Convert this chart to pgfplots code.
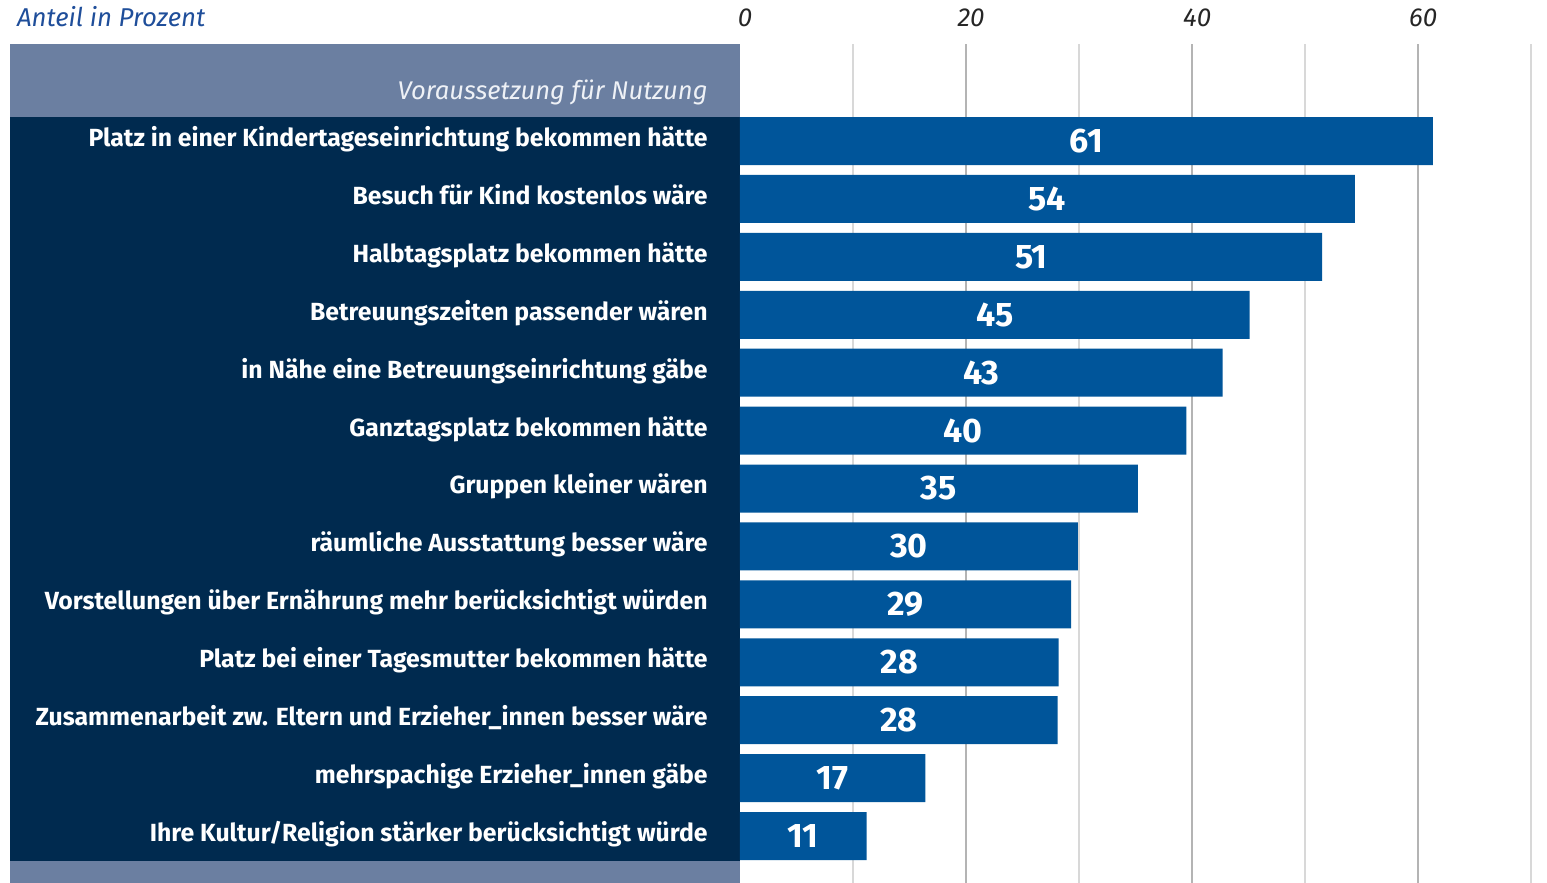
\documentclass[border=0pt]{standalone}
\usepackage{pgfplots}
\pgfplotsset{compat=1.18}
\usepackage{pgfplotstable}
\usepackage{fontspec}
\setmainfont{Fira Sans}
\definecolor{barblue}{HTML}{00559A}
\definecolor{navy}{HTML}{002A4F}
\definecolor{headgrey}{HTML}{6B7FA1}
\definecolor{titleblue}{HTML}{1F4E9A}
\definecolor{minorgrid}{HTML}{D8D8D8}
\definecolor{majorgrid}{HTML}{B4B4B4}
\definecolor{headtext}{HTML}{EEF1F6}

\pgfplotstableread{
y v lab
1 61.3 61
2 54.4 54
3 51.5 51
4 45.1 45
5 42.7 43
6 39.5 40
7 35.2 35
8 29.9 30
9 29.3 29
10 28.2 28
11 28.1 28
12 16.4 17
13 11.2 11
}\datatable

\begin{document}
\begin{tikzpicture}
% left panel (behind the axis and its tick labels)
\fill[headgrey] (-365pt,383pt) rectangle (0pt,419.5pt);
\fill[navy] (-365pt,11pt) rectangle (0pt,383pt);
\fill[headgrey] (-365pt,0pt) rectangle (0pt,11pt);
\begin{axis}[
  at={(0,0)}, anchor=south west,
  scale only axis, width=403.5pt, height=419.5pt,
  xmin=0, xmax=71.4, ymin=-0.675, ymax=13.81, y dir=reverse,
  axis line style={draw=none},
  major tick length=0pt, minor tick length=0pt,
  xtick={20,40,60}, minor xtick={10,30,50,70},
  extra x ticks={0}, extra x tick style={grid=none},
  xmajorgrids, xminorgrids,
  major grid style={majorgrid, line width=0.8pt},
  minor grid style={minorgrid, line width=0.8pt},
  xticklabel pos=upper,
  xticklabel style={font=\fontsize{13}{15}\selectfont\itshape, text=black!85, yshift=5pt, xshift=2.5pt},
  /pgf/number format/assume math mode=true,
  ytick={1,...,13},
  yticklabels={
    Platz in einer Kindertageseinrichtung bekommen hätte,
    Besuch für Kind kostenlos wäre,
    Halbtagsplatz bekommen hätte,
    Betreuungszeiten passender wären,
    in Nähe eine Betreuungseinrichtung gäbe,
    Ganztagsplatz bekommen hätte,
    Gruppen kleiner wären,
    räumliche Ausstattung besser wäre,
    Vorstellungen über Ernährung mehr berücksichtigt würden,
    Platz bei einer Tagesmutter bekommen hätte,
    Zusammenarbeit zw. Eltern und Erzieher\_innen besser wäre,
    mehrspachige Erzieher\_innen gäbe,
    Ihre Kultur/Religion stärker berücksichtigt würde},
  yticklabel style={font=\fontsize{12.4}{14}\selectfont\bfseries, text=white, anchor=base east, inner sep=0pt, xshift=-16pt, yshift=-2.7pt},
  clip=false,
]
\node[anchor=east, inner sep=0pt, text=headtext, font=\fontsize{12.8}{14}\selectfont\itshape] at (axis cs:-2.83,0.154) {Voraussetzung für Nutzung};
\node[anchor=west, inner sep=0pt, text=titleblue, font=\fontsize{12.9}{14}\selectfont\itshape] at (axis cs:-64.0,-1.141) {Anteil in Prozent};
\addplot[xbar, bar width=24pt, fill=barblue, draw=none] table[x=v, y=y] {\datatable};
\addplot[draw=none, nodes near coords, point meta=explicit symbolic,
  nodes near coords style={anchor=center, text=white, font=\fontsize{17}{19}\selectfont\bfseries}]
  table[x expr=\thisrow{v}/2, y=y, meta=lab] {\datatable};
\end{axis}
\pgfresetboundingbox
\path (-370pt,0) rectangle (403.5pt,441.5pt);
\end{tikzpicture}
\end{document}
